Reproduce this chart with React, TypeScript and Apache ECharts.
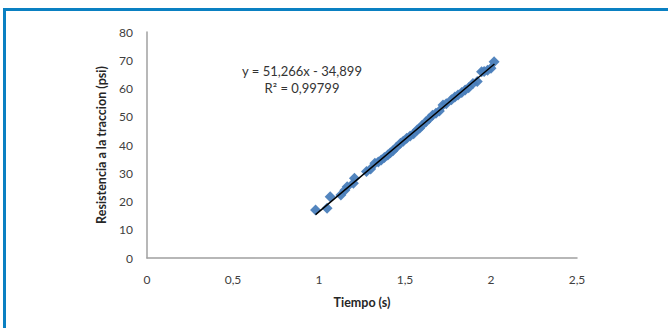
import React, { useEffect, useRef } from "react";
import * as echarts from "echarts";

const tiempo: number[] = [
  0.98, 1.047, 1.065, 1.127, 1.15, 1.164, 1.2, 1.206, 1.276, 1.3, 1.325, 1.345,
  1.362, 1.38, 1.4, 1.415, 1.43, 1.45, 1.474, 1.49, 1.51, 1.53, 1.55, 1.57,
  1.585, 1.6, 1.622, 1.64, 1.66, 1.68, 1.7, 1.721, 1.74, 1.77, 1.79, 1.808,
  1.83, 1.85, 1.87, 1.895, 1.92, 1.945, 1.96, 1.98, 2.0, 2.018,
];
const resistencia: number[] = [
  17.0, 17.6, 21.7, 22.3, 24.0, 25.2, 26.5, 28.2, 30.6, 31.5, 33.5, 34.0,
  34.7, 35.6, 36.5, 37.3, 38.0, 39.2, 40.6, 41.3, 42.4, 43.2, 44.0, 45.3,
  45.9, 47.0, 48.2, 49.3, 50.5, 51.2, 52.0, 54.2, 54.6, 56.0, 57.0, 57.7,
  58.6, 59.5, 60.3, 61.8, 62.5, 65.9, 66.0, 66.5, 67.2, 69.5,
];
const xTicks: string[] = ["0", "0,5", "1", "1,5", "2", "2,5"];
const slope = 51.266;
const intercept = -34.899;
const trendX: number[] = [0.98, 2.02];

export default function App() {
  const ref = useRef<HTMLDivElement>(null);
  useEffect(() => {
    if (!ref.current) return;
    const chart = echarts.init(ref.current, null, { renderer: "svg" });
    const font = "Lato, 'Open Sans', sans-serif";
    const pts = tiempo.map((t, i) => [t, resistencia[i]]);
    const trend = trendX.map((t) => [t, slope * t + intercept]);
    chart.setOption({
      animation: false,
      backgroundColor: "#ffffff",
      grid: { left: 147, right: 91, top: 32, bottom: 70 },
      xAxis: {
        type: "value",
        min: 0,
        max: 2.5,
        interval: 0.5,
        axisLine: { show: true, lineStyle: { color: "#a0a0a0", width: 1.5 } },
        axisTick: { show: false },
        splitLine: { show: false },
        axisLabel: {
          color: "#404040",
          fontFamily: font,
          fontSize: 12,
          margin: 15,
          formatter: (v: number) => xTicks[Math.round(v / 0.5)] ?? "",
        },
        name: "Tiempo (s)",
        nameLocation: "middle",
        nameGap: 38,
        nameTextStyle: { color: "#262626", fontFamily: font, fontSize: 12.5, fontWeight: "bold" },
      },
      yAxis: {
        type: "value",
        min: 0,
        max: 80,
        interval: 10,
        axisLine: { show: true, lineStyle: { color: "#a0a0a0", width: 1.5 } },
        axisTick: { show: false },
        splitLine: { show: false },
        axisLabel: { color: "#404040", fontFamily: font, fontSize: 12, margin: 14 },
        name: "Resistencia a la traccion (psi)",
        nameLocation: "middle",
        nameGap: 38,
        nameTextStyle: { color: "#262626", fontFamily: font, fontSize: 12.5, fontWeight: "bold" },
      },
      series: [
        {
          type: "scatter",
          data: pts,
          symbol: "diamond",
          symbolSize: 11,
          itemStyle: { color: "#4a7ebb", opacity: 0.95 },
          z: 2,
        },
        {
          type: "line",
          data: trend,
          symbol: "none",
          lineStyle: { color: "#000000", width: 1.5 },
          z: 3,
        },
      ],
      graphic: [
        { type: "rect", shape: { x: 3, y: 8, width: 665, height: 3 }, style: { fill: "#0a80c2" } },
        { type: "rect", shape: { x: 3, y: 8, width: 3, height: 320 }, style: { fill: "#0a80c2" } },
        {
          type: "text",
          x: 302,
          y: 71,
          style: {
            text: "y = 51,266x - 34,899",
            fill: "#333333",
            font: `13px ${font}`,
            align: "center",
            verticalAlign: "middle",
          },
        },
        {
          type: "text",
          x: 302,
          y: 88,
          style: {
            text: "R² = 0,99799",
            fill: "#333333",
            font: `13px ${font}`,
            align: "center",
            verticalAlign: "middle",
          },
        },
      ],
    });
    return () => chart.dispose();
  }, []);
  return (
    <div
      ref={ref}
      style={{ position: "fixed", left: 0, top: 0, width: 668, height: 328 }}
    />
  );
}
